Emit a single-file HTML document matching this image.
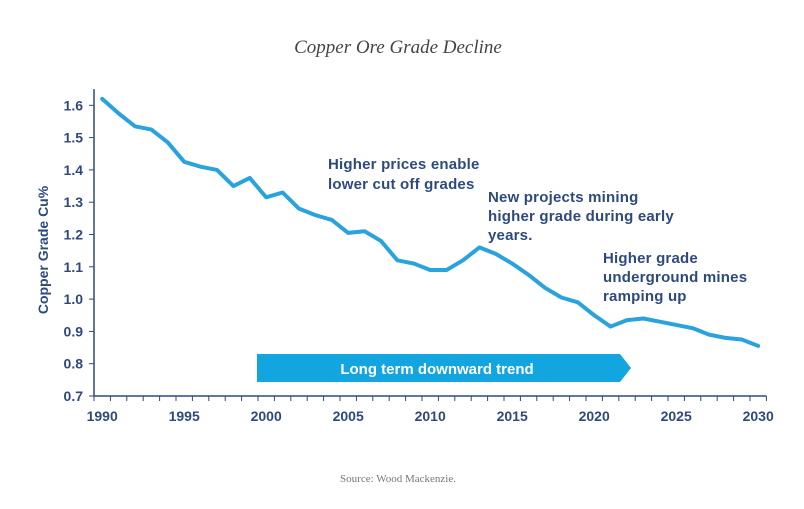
<!DOCTYPE html>
<html><head><meta charset="utf-8"><style>
body{margin:0;background:#fff;width:804px;height:509px;overflow:hidden}
svg{display:block}
.t{font-family:"Liberation Sans",sans-serif;font-weight:bold;fill:#2e4a7d}
</style></head><body>
<svg width="804" height="509">
<text x="398" y="53" text-anchor="middle" font-family="Liberation Serif,serif" font-style="italic" font-size="19" fill="#444">Copper Ore Grade Decline</text>
<g id="axes"></g>
<polygon points="257,354 620,354 631,368 620,382 257,382" fill="#12a5e0"/>
<text x="437" y="374" text-anchor="middle" font-family="Liberation Sans,sans-serif" font-weight="bold" font-size="15" fill="#fff">Long term downward trend</text>
<text class="t" font-size="15" letter-spacing="0.2"><tspan x="328" y="169">Higher prices enable</tspan><tspan x="328" y="189">lower cut off grades</tspan></text>
<text class="t" font-size="15" letter-spacing="0.2"><tspan x="488" y="202">New projects mining</tspan><tspan x="488" y="221">higher grade during early</tspan><tspan x="488" y="240">years.</tspan></text>
<text class="t" font-size="15" letter-spacing="0.2"><tspan x="603" y="263">Higher grade</tspan><tspan x="603" y="282">underground mines</tspan><tspan x="603" y="301">ramping up</tspan></text>
<text x="48" y="250" transform="rotate(-90 48 250)" text-anchor="middle" class="t" font-size="14">Copper Grade Cu%</text>
<text x="398" y="482" text-anchor="middle" font-family="Liberation Serif,serif" font-size="11" fill="#777">Source: Wood Mackenzie.</text>
</svg>
<script>
const years=[];for(let y=1990;y<=2030;y++)years.push(y);
const grades=[1.62,1.575,1.535,1.525,1.485,1.425,1.41,1.40,1.35,1.375,1.315,1.33,1.28,1.26,1.245,1.205,1.21,1.18,1.12,1.11,1.09,1.09,1.12,1.16,1.14,1.11,1.075,1.035,1.005,0.99,0.95,0.915,0.935,0.94,0.93,0.92,0.91,0.89,0.88,0.875,0.855];
const yTicks=[0.7,0.8,0.9,1.0,1.1,1.2,1.3,1.4,1.5,1.6];
const xLabels=[1990,1995,2000,2005,2010,2015,2020,2025,2030];
const NS="http://www.w3.org/2000/svg";
const svg=document.querySelector('svg');const g=document.getElementById('axes');
const x0=94,step=16.4,yBase=396,yPer=323;
const X=yr=>x0+step*(yr-1990+0.5);
const Y=v=>yBase-(v-0.7)*yPer;
function mk(t,a,p){const e=document.createElementNS(NS,t);for(const k in a)e.setAttribute(k,a[k]);(p||g).appendChild(e);return e;}
let ax=mk('path',{d:`M${x0},${Y(1.65)}V${yBase}H${x0+step*41}`,stroke:'#2e4a7d','stroke-width':1.5,fill:'none'});


yTicks.forEach(v=>{mk('line',{x1:x0-5,x2:x0,y1:Y(v),y2:Y(v),stroke:'#2e4a7d'});
const t=mk('text',{x:x0-11,y:Y(v)+5,'text-anchor':'end',class:'t','font-size':14});t.textContent=v.toFixed(1);

});
for(let i=0;i<=41;i++)mk('line',{x1:x0+step*i,x2:x0+step*i,y1:yBase,y2:yBase+5,stroke:'#2e4a7d'});
xLabels.forEach(yr=>{const t=mk('text',{x:X(yr),y:421,'text-anchor':'middle',class:'t','font-size':14});t.textContent=yr;

});
const line=mk('polyline',{points:years.map((yr,i)=>X(yr)+','+Y(grades[i])).join(' '),fill:'none',stroke:'#2aa3dd','stroke-width':4,'stroke-linejoin':'round','stroke-linecap':'round'});


</script>
</body></html>
